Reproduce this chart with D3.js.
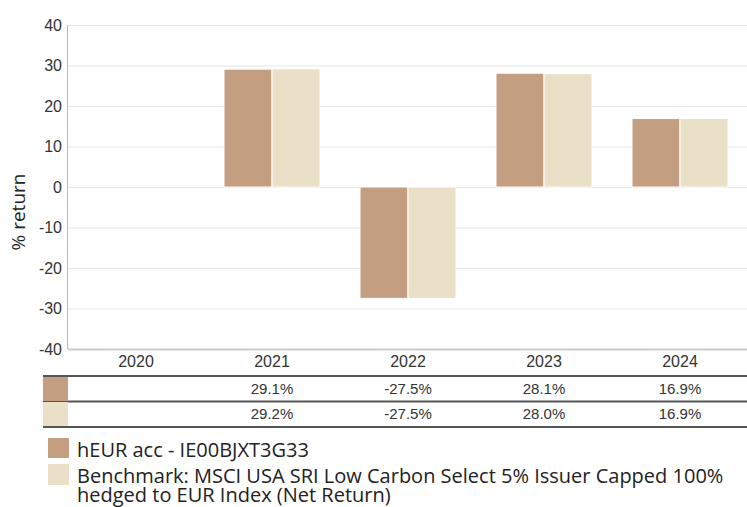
<!DOCTYPE html>
<html><head><meta charset="utf-8">
<script src="https://cdn.jsdelivr.net/npm/d3@7"></script>
<style>body{margin:0;background:#fff}svg{display:block}</style>
</head><body>
<svg id="c" width="747" height="507"></svg>
<script>
const years = ["2020","2021","2022","2023","2024"];
const fund = [null, 29.1, -27.5, 28.1, 16.9];
const bench = [null, 29.2, -27.5, 28.0, 16.9];
const yTicks = [-40,-30,-20,-10,0,10,20,30,40];
const seriesNames = ["hEUR acc - IE00BJXT3G33",
  "Benchmark: MSCI USA SRI Low Carbon Select 5% Issuer Capped 100%",
  "hedged to EUR Index (Net Return)"];
const colors = ["#C49E80", "#EAE0C7"];

const svg = d3.select("#c");
const L = 68, R = 748, T = 25, B = 349;
const x = d3.scaleBand().domain(years).range([L, R]);
const y = d3.scaleLinear().domain([-40, 40]).range([B, T]);
const sub = d3.scaleBand().domain([0,1]).range([0, 96]);
const armFont = "'Liberation Sans', Arial, sans-serif";
const legFont = "'Open Sans', 'Noto Sans', sans-serif";

// grid
svg.append("g").selectAll("line").data(yTicks).join("line")
  .attr("x1", L).attr("x2", R).attr("y1", d => y(d)+0.5).attr("y2", d => y(d)+0.5)
  .attr("stroke", "#e6e6e6").attr("stroke-width", 1);

// y axis
const ya = svg.append("g").attr("transform", `translate(${L},0)`)
  .call(d3.axisLeft(y).tickValues(yTicks).tickFormat(d => String(d)).tickSize(0).tickPadding(6));
ya.select(".domain").remove();
ya.selectAll("text").attr("font-family", armFont).attr("font-size", 16).attr("fill", "#333");
svg.append("line").attr("x1", L-0.5).attr("x2", L-0.5).attr("y1", T).attr("y2", B)
  .attr("stroke", "#bbb").attr("stroke-width", 1);

// bars
const series = [fund, bench];
series.forEach((vals, si) => {
  svg.append("g").selectAll("rect").data(years.map((yr,i)=>({yr, v: vals[i]})).filter(d=>d.v!=null))
    .join("rect")
    .attr("x", d => x(d.yr) + (x.bandwidth()-96)/2 + sub(si))
    .attr("width", sub.bandwidth())
    .attr("y", d => y(Math.max(0, d.v)))
    .attr("height", d => Math.abs(y(d.v) - y(0)))
    .attr("fill", colors[si])
    .attr("stroke", "#fff").attr("stroke-width", 1);
});

// bottom axis line
svg.append("line").attr("x1", L).attr("x2", R).attr("y1", B+0.5).attr("y2", B+0.5)
  .attr("stroke", "#ccc").attr("stroke-width", 2);

// category labels
const xa = svg.append("g").attr("transform", `translate(0,${B})`)
  .call(d3.axisBottom(x).tickSize(0).tickPadding(7));
xa.select(".domain").remove();
xa.selectAll("text").attr("font-family", armFont).attr("font-size", 16).attr("fill", "#333");

// y label
svg.append("text").attr("transform", "translate(25,212) rotate(-90)")
  .attr("text-anchor", "middle").attr("font-family", legFont).attr("font-size", 19)
  .attr("fill", "#222").text("% return");

// table
const TL = 43, SW = 68;
const rowTop = [377, 402];
const rowH = 24;
[376, 401.5, 427].forEach((ly) => {
  svg.append("line").attr("x1", TL).attr("x2", R).attr("y1", ly).attr("y2", ly)
    .attr("stroke", "#555").attr("stroke-width", 2);
});
series.forEach((vals, si) => {
  svg.append("rect").attr("x", TL).attr("y", rowTop[si]).attr("width", SW-TL).attr("height", rowH)
    .attr("fill", colors[si]);
  svg.append("g").selectAll("text").data(years.map((yr,i)=>({yr, v: vals[i]})).filter(d=>d.v!=null))
    .join("text")
    .attr("x", d => x(d.yr) + x.bandwidth()/2)
    .attr("y", rowTop[si] + rowH/2 + 5)
    .attr("text-anchor", "middle").attr("font-family", armFont).attr("font-size", 15)
    .attr("fill", "#333").text(d => d.v.toFixed(1) + "%");
});

// legend
const lg = svg.append("g");
lg.append("rect").attr("x", 48).attr("y", 438).attr("width", 21).attr("height", 20).attr("fill", colors[0]);
lg.append("rect").attr("x", 48).attr("y", 464).attr("width", 21).attr("height", 21).attr("fill", colors[1]);
[[456.5, seriesNames[0]], [483, seriesNames[1]], [502, seriesNames[2]]].forEach(([by, t]) => {
  lg.append("text").attr("x", 77).attr("y", by).attr("font-family", legFont).attr("font-size", 20)
    .attr("fill", "#222").text(t);
});
</script>
</body></html>
